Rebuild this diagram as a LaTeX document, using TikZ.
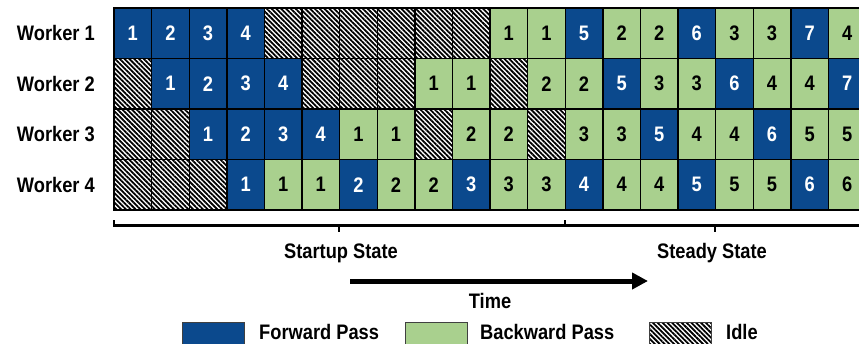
\documentclass[tikz,border=0pt]{standalone}
\usepackage{fontspec}
\setmainfont{Liberation Sans}[FakeStretch=0.87]
\usepackage{xcolor}
\usepackage{tikz}
\usetikzlibrary{arrows.meta,positioning,patterns.meta}
\definecolor{fwdblue}{RGB}{11,73,141}
\definecolor{bwdgreen}{RGB}{169,208,142}
% schedule per worker: kind/microbatch
\newcommand{\wOne}{fwd/1,fwd/2,fwd/3,fwd/4,idle/,idle/,idle/,idle/,idle/,idle/,bwd/1,bwd/1,fwd/5,bwd/2,bwd/2,fwd/6,bwd/3,bwd/3,fwd/7,bwd/4}
\newcommand{\wTwo}{idle/,fwd/1,fwd/2,fwd/3,fwd/4,idle/,idle/,idle/,bwd/1,bwd/1,idle/,bwd/2,bwd/2,fwd/5,bwd/3,bwd/3,fwd/6,bwd/4,bwd/4,fwd/7}
\newcommand{\wThree}{idle/,idle/,fwd/1,fwd/2,fwd/3,fwd/4,bwd/1,bwd/1,idle/,bwd/2,bwd/2,idle/,bwd/3,bwd/3,fwd/5,bwd/4,bwd/4,fwd/6,bwd/5,bwd/5}
\newcommand{\wFour}{idle/,idle/,idle/,fwd/1,bwd/1,bwd/1,fwd/2,bwd/2,bwd/2,fwd/3,bwd/3,bwd/3,fwd/4,bwd/4,bwd/4,fwd/5,bwd/5,bwd/5,fwd/6,bwd/6}
\newcommand{\bigfont}{\bfseries\fontsize{21}{24}\selectfont}
\tikzset{
  cell/.style={draw=black, line width=1.4pt, minimum width=37.6pt,
    minimum height=50.5pt, inner sep=0pt, outer sep=0pt, font=\bigfont},
  fwd/.style={fill=fwdblue, text=white},
  bwd/.style={fill=bwdgreen, text=black},
  idle/.style={pattern={Lines[angle=-45,distance=3.4pt,line width=1.8pt]},
    pattern color=black},
  key/.style={draw=black!75, line width=1pt, minimum width=61.6pt,
    minimum height=25pt, inner sep=0pt},
  lbl/.style={inner sep=0pt, font=\bigfont},
  bracket/.style={line width=2.2pt},
  timearrow/.style={line width=5pt, -{Triangle[length=16pt,width=16pt]}}
}

\begin{document}
\begin{tikzpicture}[x=1pt,y=-1pt]
  \path[use as bounding box] (0,0) rectangle (859,343);
  \clip (0,0) rectangle (859,343);

  % pipeline grid
  \foreach \r/\cells in {1/\wOne,2/\wTwo,3/\wThree,4/\wFour} {
    \edef\rowlist{\cells}
    \foreach \t/\n [count=\c] in \rowlist
      \node[cell,\t] (w\r-\c) at ({114+(\c-0.5)*37.6},{8+(\r-0.5)*50.5}) {\n};
    \node[lbl, left=19pt of w\r-1] (lab\r) {Worker \r};
  }

  % phases
  \draw[bracket] (114,220) -- (114,225.5) -- (870,225.5);
  \draw[bracket] (339,225.5) -- (339,232);
  \draw[bracket] (565,225.5) -- (565,220);
  \draw[bracket] (715,225.5) -- (715,232);
  \node[lbl, anchor=base] (startup) at (341,258) {Startup State};
  \node[lbl, anchor=base] (steady) at (712,258) {Steady State};

  % time axis
  \coordinate (t0) at (350,281);
  \coordinate (t1) at (648,281);
  \draw[timearrow] (t0) -- (t1);
  \node[lbl, anchor=base] (time) at (490,308) {Time};

  % legend
  \node[key, fwd] (fkey) at (213.5,334.5) {};
  \node[lbl, anchor=base west] (flbl) at (259,339) {Forward Pass};
  \node[key, bwd] (bkey) at (436.2,334.5) {};
  \node[lbl, anchor=base west] (blbl) at (480,339) {Backward Pass};
  \node[key, idle] (ikey) at (680.5,334.5) {};
  \node[lbl, anchor=base west] (ilbl) at (726,339) {Idle};
\end{tikzpicture}
\end{document}
